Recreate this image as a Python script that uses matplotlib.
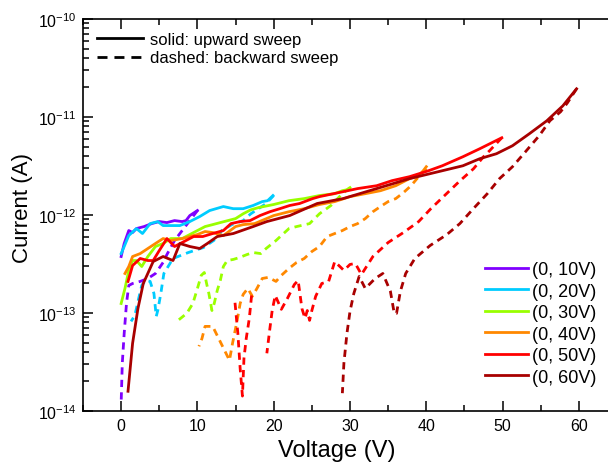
import numpy as np
import matplotlib.pyplot as plt
from matplotlib.lines import Line2D
from matplotlib.ticker import MultipleLocator, FixedLocator, LogFormatterSciNotation, NullFormatter

plt.rcParams['font.family'] = ['Liberation Sans', 'DejaVu Sans']
plt.rcParams['mathtext.fontset'] = 'custom'
plt.rcParams['mathtext.rm'] = 'Liberation Sans'

# (0, 10V)
v_up10 = [0, 0.4, 1.0, 1.5, 2.0, 3.0, 4.0, 5.0, 6.0, 7.0, 8.0, 8.5, 9.0, 10.0]
i_up10 = [0.377, 0.512, 0.694, 0.662, 0.727, 0.762, 0.817, 0.857, 0.837, 0.877, 0.857, 0.877, 0.987, 1.11]
v_dn10 = [10, 9, 8, 7, 6, 5.5, 4.5, 3.5, 2.5, 1.5, 1.0, 0.7, 0.4, 0.15, 0]
i_dn10 = [1.11, 0.877, 0.694, 0.549, 0.395, 0.328, 0.253, 0.225, 0.210, 0.200, 0.191, 0.125, 0.0620, 0.0307, 0.0120]

# (0, 20V)
v_up20 = [0, 0.4, 1, 2, 2.8, 3.8, 4.8, 5.5, 6.4, 7.7, 9, 10.3, 11.6, 13.4, 14.7, 16, 17.3, 18.5, 19.2, 19.9]
i_up20 = [0.404, 0.477, 0.617, 0.727, 0.647, 0.817, 0.857, 0.780, 0.780, 0.780, 0.857, 0.964, 1.11, 1.22, 1.16, 1.16, 1.25, 1.37, 1.40, 1.58]
v_dn20 = [20, 19, 18, 17, 16, 14.5, 13.2, 12.5, 10.8, 8.8, 6.8, 5.6, 5.2, 4.8, 4.6, 4.3, 3.8, 3.2, 2.7, 2.3, 1.8, 1.3]
i_dn20 = [1.58, 1.31, 1.16, 1.03, 0.877, 0.798, 0.694, 0.575, 0.466, 0.414, 0.360, 0.253, 0.158, 0.106, 0.0923, 0.158, 0.210, 0.215, 0.191, 0.141, 0.0946, 0.0821]

# (0, 30V)
v_up30 = [0, 0.5, 1, 1.5, 2, 2.7, 3.5, 4.5, 5.5, 6.5, 8, 9, 10, 11, 12, 13, 14, 15, 16, 17, 18, 20, 22, 24, 26, 28, 29, 29.6, 30]
i_up30 = [0.125, 0.178, 0.272, 0.343, 0.343, 0.298, 0.377, 0.477, 0.512, 0.575, 0.575, 0.632, 0.694, 0.762, 0.798, 0.837, 0.877, 0.919, 1.03, 1.13, 1.19, 1.28, 1.40, 1.47, 1.58, 1.65, 1.77, 1.81, 1.90]
v_dn30 = [30, 29, 28, 27.5, 26, 24.7, 23, 22, 21, 20.3, 19, 18.3, 17.3, 16.5, 15.5, 14.7, 13.9, 13.4, 13, 12.6, 12.2, 11.9, 11.5, 11.2, 10.9, 10.5, 10, 9.4, 8.6, 7.3]
i_dn30 = [1.90, 1.65, 1.37, 1.25, 1.03, 0.817, 0.762, 0.727, 0.617, 0.549, 0.455, 0.404, 0.414, 0.395, 0.368, 0.352, 0.343, 0.298, 0.215, 0.170, 0.125, 0.106, 0.158, 0.200, 0.259, 0.242, 0.178, 0.125, 0.0991, 0.0821]

# (0, 40V)
v_up40 = [0.5, 1, 1.5, 2.5, 3.5, 4.5, 5.5, 6.5, 8, 9, 10, 11, 12, 13.4, 15, 16, 17.5, 20, 22, 24, 26, 28, 30, 32, 34, 36, 37.8, 39, 39.6, 40]
i_up40 = [0.253, 0.298, 0.377, 0.404, 0.455, 0.512, 0.575, 0.549, 0.575, 0.603, 0.632, 0.678, 0.662, 0.617, 0.762, 0.798, 0.817, 0.987, 1.08, 1.16, 1.28, 1.37, 1.54, 1.65, 1.77, 1.99, 2.35, 2.52, 2.83, 3.11]
v_dn40 = [40, 39, 38, 37, 36, 35, 34, 33, 32, 31, 30, 29, 28, 27, 26, 25, 24, 23, 22, 21, 20.3, 19.3, 18.5, 17.8, 17.2, 16.6, 16, 15.6, 15.3, 15, 14.6, 14.2, 12, 11, 10.6, 10.2]
i_dn40 = [2.97, 2.46, 1.99, 1.69, 1.47, 1.37, 1.22, 1.08, 0.919, 0.817, 0.762, 0.694, 0.647, 0.603, 0.477, 0.424, 0.360, 0.328, 0.285, 0.242, 0.210, 0.231, 0.225, 0.178, 0.148, 0.178, 0.155, 0.125, 0.0923, 0.0697, 0.0490, 0.0329, 0.0730, 0.0730, 0.0551, 0.0457]

# (0, 50V)
v_up50 = [0.9, 1.5, 2.5, 3.5, 4.2, 5, 6, 7, 8, 9.5, 10.7, 12, 13.4, 14.4, 15.6, 16.9, 18.2, 19.5, 20.8, 22.1, 23.4, 25.1, 26, 29.1, 31, 33.5, 35.5, 37.8, 40.3, 42.1, 44.8, 47, 49.9]
i_up50 = [0.210, 0.305, 0.360, 0.343, 0.343, 0.434, 0.575, 0.477, 0.524, 0.603, 0.603, 0.647, 0.694, 0.817, 0.857, 0.877, 0.987, 1.08, 1.16, 1.25, 1.31, 1.47, 1.54, 1.73, 1.86, 1.99, 2.24, 2.46, 2.83, 3.18, 3.93, 4.74, 6.14]
v_dn50 = [49.9, 48.3, 47.5, 46.2, 44.3, 42.4, 40.6, 39, 37, 35, 33, 31.5, 30.7, 30, 29.2, 28, 27.2, 26.3, 25.5, 25, 24.7, 24.4, 24.1, 23.7, 23.2, 22.7, 21.8, 21, 20.2, 19.8, 19.5, 19.1, np.nan, 17.1, 16.8, 16.4, 16.1, 15.9, 15.6, 15.3, 14.9]
i_dn50 = [6.14, 4.53, 3.93, 2.97, 2.19, 1.58, 1.16, 0.857, 0.662, 0.524, 0.377, 0.247, 0.320, 0.313, 0.272, 0.335, 0.210, 0.200, 0.148, 0.106, 0.0841, 0.106, 0.0881, 0.111, 0.215, 0.195, 0.141, 0.109, 0.151, 0.106, 0.0697, 0.0388, np.nan, 0.151, 0.0881, 0.0551, 0.0345, 0.0142, 0.0273, 0.0620, 0.134]

# (0, 60V)
v_up60 = [0.9, 1.5, 2.2, 2.9, 4.2, 5.5, 6.8, 7.7, 9.0, 10.3, 11.3, 12.6, 14.7, 17.3, 19.1, 22.1, 25.7, 29.1, 33.5, 37.8, 42.1, 44.8, 47, 49.2, 51.3, 53.5, 55.8, 57.9, 59.7]
i_up60 = [0.0159, 0.0490, 0.111, 0.200, 0.335, 0.377, 0.343, 0.512, 0.477, 0.455, 0.512, 0.603, 0.647, 0.762, 0.857, 0.987, 1.31, 1.47, 1.86, 2.35, 2.83, 3.18, 3.75, 4.22, 5.09, 6.74, 9.15, 13.0, 19.4]
v_dn60 = [59.7, 58.5, 57.6, 56.2, 54.8, 53, 51.3, 49.6, 48, 46.3, 44.4, 42.7, 40.5, 38.5, 37.3, 36.6, 36.1, 35.8, 35.3, 34.3, 33.3, 32, 31.2, 30.5, 30, 29.6, 29.2, 29]
i_dn60 = [19.4, 13.95, 11.3, 9.15, 6.44, 4.42, 3.11, 2.35, 1.65, 1.19, 0.817, 0.632, 0.488, 0.360, 0.253, 0.166, 0.0991, 0.0991, 0.166, 0.253, 0.225, 0.178, 0.236, 0.158, 0.104, 0.0620, 0.0307, 0.0152]

labels = ['(0, 10V)', '(0, 20V)', '(0, 30V)', '(0, 40V)', '(0, 50V)', '(0, 60V)']
colors = ['#8000ff', '#00ccff', '#99ff00', '#ff8800', '#ff0000', '#a80000']
y_major = [1e-14, 1e-13, 1e-12, 1e-11, 1e-10]
ups = [(v_up10, i_up10), (v_up20, i_up20), (v_up30, i_up30), (v_up40, i_up40), (v_up50, i_up50), (v_up60, i_up60)]
downs = [(v_dn10, i_dn10), (v_dn20, i_dn20), (v_dn30, i_dn30), (v_dn40, i_dn40), (v_dn50, i_dn50), (v_dn60, i_dn60)]

fig = plt.figure(figsize=(6.08, 4.64), dpi=100)
ax = fig.add_axes([83/608, 52/464, 534/608, 392/464])

for (vu, iu), (vd, idn), c in zip(ups, downs, colors):
    ax.plot(vu, np.array(iu) * 1e-12, color=c, lw=2.0)
    ax.plot(vd, np.array(idn) * 1e-12, color=c, lw=2.0, dashes=(2.6, 1.9))

ax.set_yscale('log')
ax.set_xlim(-5, 65)
ax.set_ylim(1e-14, 1e-10)
ax.xaxis.set_major_locator(MultipleLocator(10))
ax.xaxis.set_minor_locator(MultipleLocator(5))
ax.yaxis.set_major_locator(FixedLocator(y_major))
ax.yaxis.set_major_formatter(LogFormatterSciNotation())
minor = [m * d for d in y_major[:-1] for m in range(2, 10)]
ax.yaxis.set_minor_locator(FixedLocator(minor))
ax.yaxis.set_minor_formatter(NullFormatter())
ax.tick_params(which='both', direction='in', top=True, right=False, width=1.1, labelsize=11.5, pad=5)
ax.tick_params(which='major', length=7)
ax.tick_params(which='minor', length=4)
for s in ax.spines.values():
    s.set_linewidth(1.2)

ax.set_xlabel('Voltage (V)', fontsize=17)
ax.set_ylabel('Current (A)', fontsize=16)
ax.xaxis.set_label_coords(0.476, -0.072)
ax.yaxis.set_label_coords(-0.093, 0.52)

h1 = [Line2D([], [], color='k', lw=2), Line2D([], [], color='k', lw=2, dashes=(3.6, 2.5))]
leg1 = fig.legend(h1, ['solid: upward sweep', 'dashed: backward sweep'], loc='upper left',
                  bbox_to_anchor=(97/608, 1 - 33/464), frameon=False, fontsize=12,
                  handlelength=2.75, handletextpad=0.45, labelspacing=0.2,
                  borderpad=0, borderaxespad=0)

h2 = [Line2D([], [], color=c, lw=2) for c in colors]
fig.legend(h2, labels, loc='upper left', bbox_to_anchor=(485/608, 1 - 262/464),
           frameon=False, fontsize=13, handlelength=2.4, handletextpad=0.22,
           labelspacing=0.25, borderpad=0, borderaxespad=0)

fig.savefig('out.png', dpi=100)
